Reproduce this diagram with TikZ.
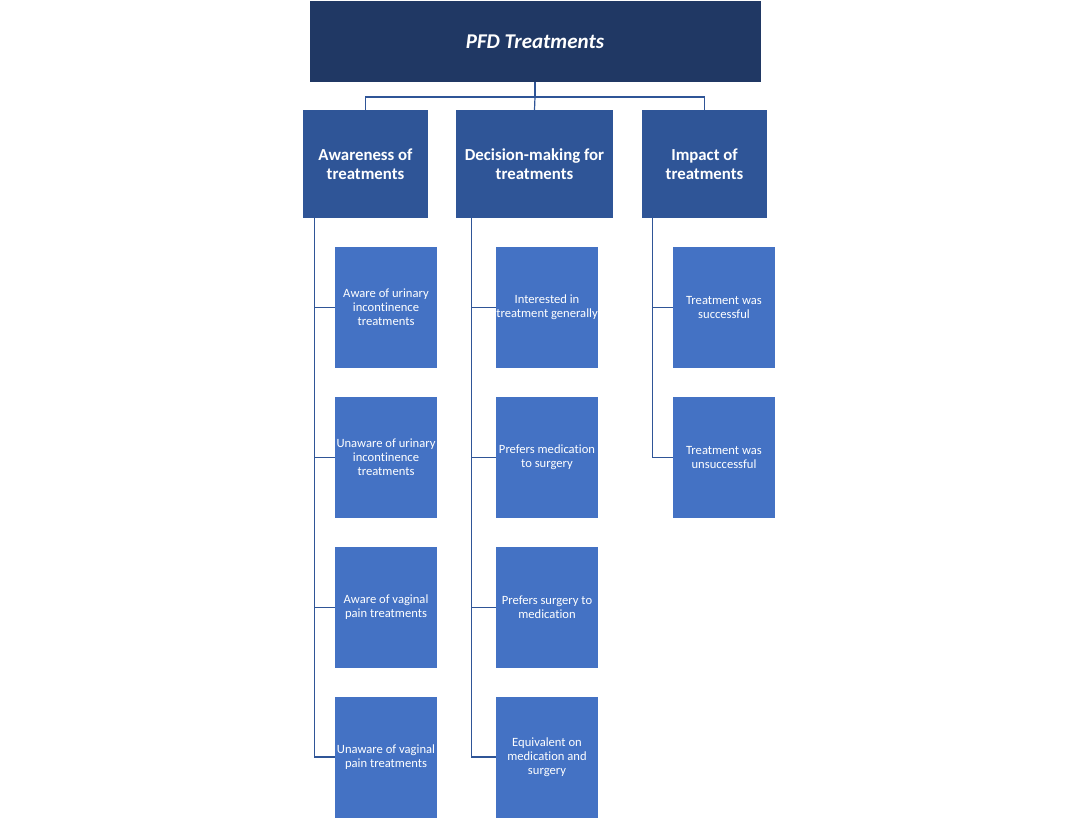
\documentclass[tikz,border=0pt]{standalone}
\usepackage{fontspec}
\setmainfont{Carlito}[Ligatures=NoCommon]
\usepackage{xcolor}
\usetikzlibrary{calc}

\definecolor{navy}{HTML}{203864}
\definecolor{midblue}{HTML}{2F5597}
\definecolor{lightblue}{HTML}{4472C4}

\tikzset{
  rootbox/.style={fill=navy, text=white, minimum width=451pt, minimum height=81pt, inner sep=0pt,
    font=\fontsize{21}{25}\selectfont\bfseries\itshape},
  themebox/.style={fill=midblue, text=white, minimum height=108pt, inner sep=0pt, align=center,
    font=\fontsize{16.8}{18.5}\selectfont\bfseries},
  leafbox/.style={fill=lightblue, text=white, minimum width=102pt, minimum height=121pt, inner sep=0pt,
    align=center, font=\fontsize{12.6}{14}\selectfont},
  link/.style={draw=midblue, line width=1.2pt}
}

\begin{document}
\begin{tikzpicture}[x=1pt,y=-1pt]
\useasboundingbox (0,0) rectangle (1080,822);

\node[rootbox] (pfd) at (535,41.5) {PFD Treatments};

\node[themebox, minimum width=125pt] (aware) at (365.5,164) {Awareness of\\treatments};
\node[themebox, minimum width=157pt] (decide) at (534.5,164) {Decision-making for\\treatments};
\node[themebox, minimum width=125pt] (impact) at (704.5,164) {Impact of\\treatments};

%awareness column
\node[leafbox] (aw1) at (386,307.5) {Aware of urinary\\incontinence\\treatments};
\node[leafbox] (aw2) at (386,457.5) {Unaware of urinary\\incontinence\\treatments};
\node[leafbox] (aw3) at (386,607.5) {Aware of vaginal\\pain treatments};
\node[leafbox] (aw4) at (386,757) {Unaware of vaginal\\pain treatments};

%decision column
\node[leafbox] (dm1) at (547,307.5) {Interested in\\treatment generally};
\node[leafbox] (dm2) at (547,457.5) {Prefers medication\\to surgery};
\node[leafbox] (dm3) at (547,607.5) {Prefers surgery to\\medication};
\node[leafbox] (dm4) at (547,757) {Equivalent on\\medication and\\surgery};

%impact column
\node[leafbox] (im1) at (724,307.5) {Treatment was\\successful};
\node[leafbox] (im2) at (724,457.5) {Treatment was\\unsuccessful};

%top connectors
\coordinate (bus) at (535,97);
\draw[link] (pfd.south) -- (bus);
\draw[link] (aware.north) |- (bus) -| (impact.north);
\draw[link] (bus) -- (decide.north);

%column connectors
\foreach \k in {1,...,4}
  \draw[link] ([xshift=12pt]aware.south west) |- (aw\k.west);
\foreach \k in {1,...,4}
  \draw[link] ([xshift=16pt]decide.south west) |- (dm\k.west);
\foreach \k in {1,2}
  \draw[link] ([xshift=11pt]impact.south west) |- (im\k.west);
\end{tikzpicture}
\end{document}
